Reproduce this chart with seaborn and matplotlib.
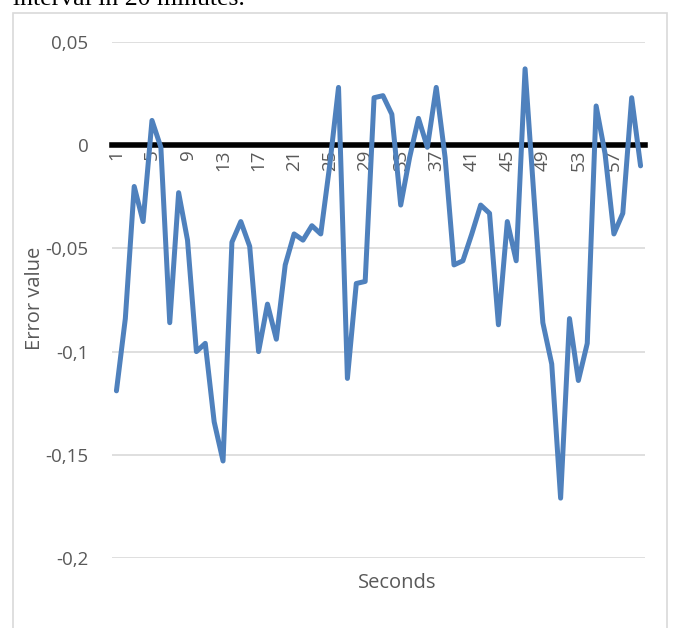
import matplotlib
matplotlib.use("Agg")
import matplotlib.pyplot as plt
from matplotlib.patches import Rectangle
import numpy as np
import pandas as pd
import seaborn as sns

# Error per second over one measurement interval
seconds = list(range(1, 61))
error_values = [
    -0.119, -0.084, -0.020, -0.037, 0.012, -0.001, -0.086, -0.023, -0.046, -0.100,
    -0.096, -0.134, -0.153, -0.047, -0.037, -0.049, -0.100, -0.077, -0.094, -0.058,
    -0.043, -0.046, -0.039, -0.043, -0.010, 0.028, -0.113, -0.067, -0.066, 0.023,
    0.024, 0.015, -0.029, -0.006, 0.013, -0.001, 0.028, -0.006, -0.058, -0.056,
    -0.043, -0.029, -0.033, -0.087, -0.037, -0.056, 0.037, -0.025, -0.086, -0.106,
    -0.171, -0.084, -0.114, -0.096, 0.019, -0.004, -0.043, -0.033, 0.023, -0.010,
]
x_tick_values = list(range(1, 61, 4))
y_tick_values = [0.05, 0.0, -0.05, -0.1, -0.15, -0.2]
y_tick_labels = ["0,05", "0", "-0,05", "-0,1", "-0,15", "-0,2"]

df = pd.DataFrame({"Seconds": seconds, "Error value": error_values})

sns.set_style("white")
plt.rcParams["font.family"] = ["Open Sans", "DejaVu Sans"]

W, H = 680, 628
fig = plt.figure(figsize=(W / 100, H / 100), dpi=100)

# outer chart frame
fig.patches.append(Rectangle((13 / W, -0.01), (667 - 13) / W, 1 - 13 / H + 0.01,
                             transform=fig.transFigure, fill=False,
                             edgecolor="#D9D9D9", linewidth=1.2))

# caption line from the surrounding text, running off the top edge
fig.text(13 / W, 1 - 5 / H, "interval in 20 minutes.", family="Liberation Serif",
         fontsize=18.5, color="black", ha="left", va="baseline")

ax = fig.add_axes([112 / W, 1 - 558 / H, (645 - 112) / W, (558 - 42) / H])

sns.lineplot(data=df, x="Seconds", y="Error value", ax=ax, color="#4F81BD",
             linewidth=3.6, zorder=3)

ax.set_xlim(0.5, 60.5)
ax.set_ylim(-0.2, 0.05)
ax.set_yticks(y_tick_values)
ax.set_yticklabels(y_tick_labels)
ax.set_xticks(x_tick_values)
ax.set_xticklabels([str(v) for v in x_tick_values])

ax.grid(axis="y", color="#D9D9D9", linewidth=1.2, zorder=0)
ax.grid(axis="x", visible=False)

for side in ["left", "right", "top"]:
    ax.spines[side].set_visible(False)
ax.spines["bottom"].set_position(("data", 0))
ax.spines["bottom"].set_color("black")
ax.spines["bottom"].set_linewidth(4)
ax.spines["bottom"].set_zorder(2)

ax.tick_params(axis="both", length=0, colors="#595959", labelsize=13.5)
ax.tick_params(axis="y", pad=17)
ax.tick_params(axis="x", pad=3, labelrotation=90)

ax.set_xlabel("")
ax.set_ylabel("")
fig.text(397 / W, 1 - 583 / H, "Seconds", fontsize=14.5, color="#595959",
         ha="center", va="center")
fig.text(35 / W, 1 - 298 / H, "Error value", fontsize=14.5, color="#595959",
         ha="center", va="center", rotation=90)

fig.savefig("out.png", dpi=100)
